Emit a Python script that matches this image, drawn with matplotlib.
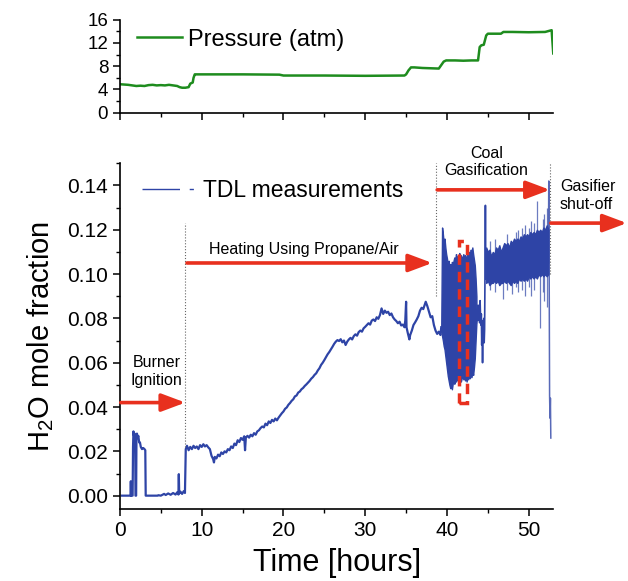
import matplotlib
matplotlib.use("Agg")
import matplotlib.pyplot as plt
from matplotlib.lines import Line2D
from matplotlib.patches import Rectangle
from matplotlib.ticker import MultipleLocator, FormatStrFormatter

plt.rcParams['font.family'] = ['Liberation Sans', 'DejaVu Sans']
plt.rcParams['mathtext.default'] = 'regular'

# давление в газификаторе (атм)
p_time = [0, 0.5, 1, 1.5, 2, 2.5, 3, 3.5, 4, 4.5, 5, 5.5, 6, 6.5, 7, 7.3, 7.6, 8, 8.4, 8.6,
          8.9, 9.0, 9.15, 9.3, 12, 15, 19.5, 20, 25, 30, 34.8, 35.0, 35.3, 35.6, 36, 37, 38,
          39, 39.3, 39.6, 39.9, 41, 42, 43, 43.8, 44.0, 44.2, 44.5, 44.8, 45.0, 46, 46.6,
          46.9, 48, 50, 52, 52.8, 53.0]
p_atm = [4.9, 4.85, 4.8, 4.7, 4.6, 4.65, 4.6, 4.75, 4.8, 4.7, 4.75, 4.7, 4.8, 4.7, 4.6, 4.4,
         4.3, 4.3, 4.4, 5.0, 5.2, 6.0, 6.6, 6.6, 6.6, 6.6, 6.55, 6.4, 6.4, 6.35, 6.4, 6.6, 7.3,
         7.8, 7.8, 7.7, 7.65, 7.6, 8.2, 8.8, 9.0, 9.0, 8.95, 9.0, 9.0, 11.3, 11.6, 11.7, 13.3,
         13.6, 13.6, 13.6, 13.9, 13.9, 13.85, 13.9, 14.2, 10.2]

# H2O - основная линия (до 39.3 ч)
h_time = [0.2, 1.3, 1.33, 1.36, 1.55, 1.6, 1.65, 1.72, 1.8, 1.86, 1.9, 1.98, 2.02, 2.08, 2.15,
          2.25, 2.35, 2.45, 2.55, 2.7, 2.85, 3.0, 3.1, 3.15, 4.6, 4.7, 5.0, 5.4, 5.6, 5.9, 6.2,
          6.5, 6.8, 7.0, 7.15, 7.2, 7.25, 7.4, 7.6, 7.8, 7.95, 8.05,
          8.2, 8.4, 8.6, 8.8, 9.0, 9.2, 9.4, 9.6, 9.8, 10.0, 10.2, 10.4, 10.6, 10.8, 11.0, 11.2,
          11.4, 11.5, 11.6, 11.8, 12.0, 12.2, 12.4, 12.6, 12.8, 13.0, 13.2, 13.4, 13.6, 13.8,
          14.0, 14.2, 14.4, 14.6, 14.8, 15.0, 15.2, 15.3, 15.4, 15.6, 15.8, 16.0, 16.2, 16.4,
          16.6, 16.8, 17.0, 17.2, 17.4, 17.6, 17.8, 18.0, 18.2, 18.4, 18.6, 18.8, 19.0, 19.2,
          19.4, 19.6, 19.8, 20.0, 20.2, 20.4, 20.6, 20.8, 21.0, 21.2, 21.4, 21.6, 21.8, 22.0,
          22.2, 22.4, 22.6, 22.8, 23.0, 23.2, 23.4, 23.6, 23.8, 24.0, 24.2, 24.4, 24.6, 24.8,
          25.0, 25.2, 25.4, 25.6, 25.8, 26.0, 26.2, 26.4, 26.6, 26.8, 27.0, 27.2, 27.4, 27.6,
          27.8, 28.0, 28.2, 28.4, 28.6, 28.8, 29.0, 29.2, 29.4, 29.6, 29.8, 30.0, 30.2, 30.4,
          30.6, 30.8, 31.0, 31.2, 31.4, 31.6, 31.8, 32.0, 32.2, 32.4, 32.6, 32.8, 33.0, 33.2,
          33.4, 33.6, 33.8, 34.0, 34.2, 34.4, 34.6, 34.8, 34.9, 35.0, 35.05, 35.2, 35.4, 35.5,
          35.7, 35.9, 36.1, 36.3, 36.5, 36.7, 36.9, 37.1, 37.3, 37.4, 37.6, 37.8, 38.0, 38.2,
          38.4, 38.6, 38.8, 39.0, 39.2, 39.3]
h_val = [0, 0, 0.0065, 0, 0, 0.022, 0.029, 0.027, 0.028, 0.025, 0.0, 0.0, 0.026, 0.028, 0.026,
         0.027, 0.024, 0.024, 0.022, 0.021, 0.0215, 0.021, 0.0205, 0.0, 0.0, 0.0002, 0, 0.0008,
         0.0003, 0.0010, 0.0004, 0.0012, 0.0005, 0.0015, 0.0005, 0.0097, 0.001, 0.0018, 0.0008,
         0.0020, 0.0012, 0.021,
         0.0225, 0.0205, 0.022, 0.021, 0.0225, 0.0215, 0.0222, 0.021, 0.0228, 0.0220, 0.0232,
         0.0222, 0.0228, 0.0218, 0.021, 0.018, 0.0165, 0.0150, 0.0175, 0.0168, 0.0185, 0.0178,
         0.0195, 0.0188, 0.0200, 0.0195, 0.021, 0.0205, 0.0222, 0.0215, 0.0235, 0.0228, 0.025,
         0.0242, 0.026, 0.0252, 0.0268, 0.0205, 0.0262, 0.027, 0.0262, 0.0275, 0.0268, 0.0282,
         0.0275, 0.029, 0.0295, 0.0305, 0.0312, 0.0308, 0.0325, 0.0318, 0.0335, 0.0328, 0.0342,
         0.0335, 0.0348, 0.0340, 0.0352, 0.0362, 0.0372, 0.0380, 0.0392, 0.0398, 0.0410, 0.0418,
         0.0428, 0.0435, 0.0448, 0.0452, 0.0465, 0.0470, 0.0480, 0.0486, 0.0495, 0.0502, 0.0510,
         0.0518, 0.0528, 0.0535, 0.0545, 0.0552, 0.0565, 0.0575, 0.0590, 0.0600, 0.0612, 0.0625,
         0.0638, 0.0648, 0.066, 0.0672, 0.0685, 0.0695, 0.0702, 0.0698, 0.0706, 0.0692, 0.0700,
         0.0680, 0.0695, 0.0705, 0.0712, 0.0705, 0.0720, 0.0728, 0.0722, 0.0738, 0.0745, 0.0740,
         0.0755, 0.0762, 0.0770, 0.0778, 0.0772, 0.0790, 0.0795, 0.0788, 0.0805, 0.0798, 0.0815,
         0.0845, 0.0820, 0.0835, 0.0825, 0.0830, 0.0815, 0.0822, 0.0805, 0.0795, 0.0788, 0.0778,
         0.0785, 0.0768, 0.0772, 0.0760, 0.0790, 0.0875, 0.0760, 0.0735, 0.0705, 0.0725, 0.0745,
         0.0770, 0.0782, 0.0795, 0.0810, 0.0835, 0.0848, 0.0842, 0.0865, 0.0875, 0.0855, 0.0830,
         0.0805, 0.0810, 0.0770, 0.0745, 0.0730, 0.0740, 0.0725, 0.0760]

# первая полоса колебаний (газификация угля)
b1_time = [39.3, 39.4, 39.5, 39.6, 39.7, 39.8, 39.9, 40.0, 40.1, 40.2, 40.3, 40.4, 40.5, 40.6,
           40.7, 40.8, 40.9, 41.0, 41.1, 41.2, 41.3, 41.4, 41.5, 41.6, 41.7, 41.8, 41.9, 42.0,
           42.1, 42.2, 42.3, 42.4, 42.5, 42.6, 42.7, 42.8, 42.9, 43.0, 43.1, 43.2, 43.3, 43.4,
           43.5, 43.6]
b1_top = [0.076, 0.121, 0.118, 0.114, 0.116, 0.112, 0.109, 0.107, 0.104, 0.106, 0.103, 0.1045,
          0.102, 0.1055, 0.104, 0.106, 0.1075, 0.106, 0.109, 0.107, 0.108, 0.1065, 0.1095,
          0.108, 0.1085, 0.107, 0.1075, 0.109, 0.107, 0.1085, 0.106, 0.108, 0.1095, 0.108,
          0.110, 0.1085, 0.111, 0.1095, 0.112, 0.109, 0.1065, 0.104, 0.098, 0.090]
b1_low = [0.074, 0.072, 0.070, 0.0675, 0.066, 0.063, 0.060, 0.057, 0.054, 0.052, 0.050, 0.0485,
          0.051, 0.048, 0.0505, 0.052, 0.0505, 0.053, 0.0515, 0.0535, 0.052, 0.054, 0.0525,
          0.0535, 0.0515, 0.0530, 0.0545, 0.0525, 0.054, 0.0520, 0.0535, 0.0515, 0.054, 0.0525,
          0.0545, 0.0530, 0.0555, 0.0535, 0.056, 0.0545, 0.058, 0.062, 0.070, 0.078]

# переход между полосами
m_time = [43.6, 43.7, 43.75, 43.8, 43.85, 43.9, 44.0, 44.05, 44.1, 44.15, 44.2, 44.25, 44.3,
          44.35, 44.4, 44.45, 44.5, 44.55, 44.6, 44.65, 44.7, 44.75]
m_val = [0.078, 0.084, 0.079, 0.086, 0.080, 0.083, 0.078, 0.088, 0.081, 0.077, 0.082, 0.068,
         0.079, 0.060, 0.077, 0.074, 0.080, 0.069, 0.075, 0.100, 0.131, 0.098]

# вторая полоса
b2_time = [44.8, 45.0, 45.2, 45.4, 45.6, 45.8, 46.0, 46.2, 46.4, 46.6, 46.8, 47.0, 47.2, 47.4,
           47.6, 47.8, 48.0, 48.2, 48.4, 48.6, 48.8, 49.0, 49.2, 49.4, 49.6, 49.8, 50.0, 50.2,
           50.4, 50.6, 50.8, 51.0, 51.2, 51.4, 51.6, 51.8, 52.0, 52.2, 52.4]
b2_top = [0.112, 0.110, 0.111, 0.108, 0.110, 0.109, 0.112, 0.111, 0.113, 0.110, 0.112, 0.114,
          0.113, 0.114, 0.112, 0.115, 0.114, 0.116, 0.115, 0.116, 0.115, 0.117, 0.116, 0.118,
          0.117, 0.118, 0.117, 0.119, 0.118, 0.119, 0.118, 0.120, 0.119, 0.120, 0.119, 0.121,
          0.120, 0.122, 0.120]
b2_low = [0.096, 0.097, 0.095, 0.096, 0.096, 0.097, 0.096, 0.097, 0.095, 0.096, 0.096, 0.097,
          0.096, 0.097, 0.096, 0.095, 0.097, 0.096, 0.097, 0.096, 0.098, 0.097, 0.098, 0.097,
          0.098, 0.097, 0.099, 0.098, 0.099, 0.098, 0.099, 0.098, 0.100, 0.099, 0.100, 0.099,
          0.100, 0.099, 0.100]

# отдельные выбросы
sp_time = [45.3, 45.9, 46.8, 47.3, 47.9, 48.4, 48.7, 49.2, 49.5, 50.0, 50.3, 50.7, 51.0,
           51.4, 51.7, 51.9, 52.2]
sp_low = [0.093, 0.092, 0.0886, 0.093, 0.091, 0.094, 0.092, 0.093, 0.090, 0.094, 0.090, 0.093,
          0.100, 0.0756, 0.092, 0.088, 0.085]
sp_high = [0.115, 0.116, 0.110, 0.118, 0.110, 0.119, 0.120, 0.121, 0.122, 0.121, 0.124, 0.123,
           0.133, 0.100, 0.125, 0.127, 0.130]

# отключение
e_time = [52.4, 52.45, 52.5, 52.55, 52.6, 52.65, 52.7]
e_val = [0.105, 0.142, 0.100, 0.045, 0.035, 0.044, 0.026]

blue = '#2e44a6'
red = '#e8301e'
green = '#1e8c1e'

fig = plt.figure(figsize=(6.28, 5.81), dpi=100)
ax_p = fig.add_axes([0.191, 0.806, 0.690, 0.160])
ax = fig.add_axes([0.191, 0.124, 0.690, 0.595])

# верхний график - давление
ax_p.plot(p_time, p_atm, color=green, lw=1.8, label='Pressure (atm)')
ax_p.set_xlim(0, 53)
ax_p.set_ylim(0, 16)
ax_p.yaxis.set_major_locator(MultipleLocator(4))
ax_p.yaxis.set_minor_locator(MultipleLocator(2))
ax_p.xaxis.set_major_locator(MultipleLocator(10))
ax_p.xaxis.set_minor_locator(MultipleLocator(5))
ax_p.set_xticklabels([])
ax_p.tick_params(labelsize=13.5)
ax_p.legend(loc='center left', bbox_to_anchor=(0.039, 0.785), frameon=False, fontsize=17,
            handlelength=1.9, handletextpad=0.25, borderpad=0, borderaxespad=0)

# нижний график - H2O
ax.plot(h_time, h_val, color=blue, lw=1.6)
ax.fill_between(b1_time, b1_low, b1_top, color=blue, lw=1.0, edgecolor=blue)
ax.plot(m_time, m_val, color=blue, lw=1.2)
ax.fill_between(b2_time, b2_low, b2_top, color=blue, lw=1.0, edgecolor=blue)
ax.vlines(sp_time, sp_low, sp_high, color=blue, lw=0.9, alpha=0.7)
ax.plot(e_time, e_val, color=blue, lw=1.1, alpha=0.8)

ax.set_xlim(0, 53)
ax.set_ylim(-0.006, 0.15)
ax.xaxis.set_major_locator(MultipleLocator(10))
ax.xaxis.set_minor_locator(MultipleLocator(5))
ax.yaxis.set_major_locator(MultipleLocator(0.02))
ax.yaxis.set_minor_locator(MultipleLocator(0.01))
ax.yaxis.set_major_formatter(FormatStrFormatter('%.2f'))
ax.tick_params(labelsize=15)
ax.set_xlabel('Time [hours]', fontsize=22, labelpad=6)
ax.set_ylabel('H$_2$O mole fraction', fontsize=21, labelpad=8)

for a in (ax, ax_p):
    a.spines['top'].set_visible(False)
    a.spines['right'].set_visible(False)
    a.spines['left'].set_linewidth(1.2)
    a.spines['bottom'].set_linewidth(1.2)
    a.tick_params(which='major', direction='out', length=5, width=1.1)
    a.tick_params(which='minor', direction='out', length=3, width=1.0)

h = Line2D([], [], color=blue, lw=1, dashes=[27, 7, 3, 30])
ax.legend(handles=[h], labels=['TDL measurements'], loc='center left',
          bbox_to_anchor=(0.05, 0.922), frameon=False, fontsize=16.5,
          handlelength=2.3, handletextpad=0.4, borderpad=0, borderaxespad=0)

# пунктирные границы этапов
ax.vlines([8.0], 0.022, 0.123, colors='#666666', lw=0.8, linestyles=':')
ax.vlines([38.7], 0.09, 0.15, colors='#666666', lw=0.8, linestyles=':')
ax.vlines([52.6], 0.10, 0.15, colors='#666666', lw=0.8, linestyles=':')

# стрелки
arrow = dict(arrowstyle='-|>,head_length=0.8,head_width=0.3', lw=2.6, color=red,
             mutation_scale=18, shrinkA=0, shrinkB=0)
ax.annotate('', xy=(8.0, 0.042), xytext=(0.1, 0.042), arrowprops=arrow)
ax.annotate('', xy=(38.2, 0.105), xytext=(8.2, 0.105), arrowprops=arrow)
ax.annotate('', xy=(52.6, 0.138), xytext=(38.8, 0.138), arrowprops=arrow,
            annotation_clip=False)
ax.annotate('', xy=(62.0, 0.123), xytext=(52.7, 0.123), arrowprops=arrow,
            annotation_clip=False)

ax.add_patch(Rectangle((41.5, 0.042), 0.9, 0.073, fill=False, edgecolor=red, lw=2.5,
                       ls=(0, (3, 2))))

ax.text(4.5, 0.056, 'Burner\nIgnition', ha='center', va='center', fontsize=11.5)
ax.text(10.9, 0.111, 'Heating Using Propane/Air', ha='left', va='center', fontsize=11.5)
ax.text(44.8, 0.1505, 'Coal\nGasification', ha='center', va='center', fontsize=11.5,
        clip_on=False)
ax.text(53.8, 0.1355, 'Gasifier\nshut-off', ha='left', va='center', fontsize=11.5,
        clip_on=False)

fig.savefig('out.png', dpi=100)
